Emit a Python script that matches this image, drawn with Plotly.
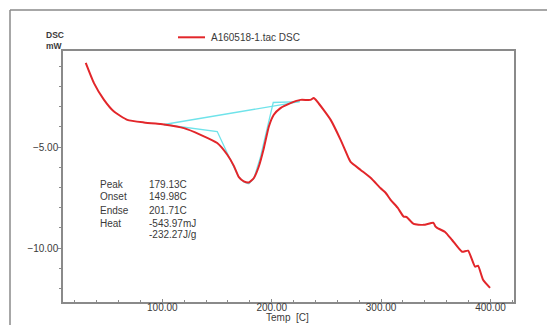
import plotly.graph_objects as go

# DSC curve (Temp [C], DSC [mW])
temp = [30.0, 37.5, 46.7, 55.8, 68.0, 83.2, 98.4, 101.5, 119.7, 135.0, 150.2, 159.4, 165.4,
        170.0, 174.5, 179.1, 183.7, 188.2, 192.8, 197.4, 201.9, 208.0, 217.2, 226.3, 235.4,
        238.4, 241.6, 253.9, 263.0, 270.2, 272.1, 281.3, 290.4, 299.6, 304.1, 308.7, 315.1,
        320.6, 322.4, 323.7, 329.7, 338.8, 347.9, 349.6, 351.2, 358.5, 364.9, 374.0, 379.5,
        385.9, 388.6, 393.2, 399.6]
dsc = [-0.83, -1.83, -2.66, -3.24, -3.65, -3.78, -3.86, -3.88, -4.06, -4.39, -4.80, -5.38, -5.93,
       -6.49, -6.70, -6.75, -6.53, -5.96, -5.05, -3.98, -3.40, -3.07, -2.82, -2.66, -2.66,
       -2.57, -2.74, -3.65, -4.64, -5.53, -5.73, -6.13, -6.52, -7.04, -7.26, -7.61, -8.00,
       -8.44, -8.45, -8.48, -8.80, -8.85, -8.75, -8.93, -9.00, -9.20, -9.60, -10.18, -10.13,
       -10.92, -10.87, -11.57, -11.97]

# evaluation construction lines
base_t = [101.5, 225.6]
base_v = [-3.88, -2.75]
onset_t = [101.5, 150.2, 165.1, 170.0, 174.5, 179.1]
onset_v = [-3.88, -4.23, -5.96, -6.49, -6.72, -6.82]
endset_t = [179.1, 183.7, 189.8, 201.4, 225.6]
endset_v = [-6.82, -6.55, -5.47, -2.79, -2.75]

x_ticks = [100, 200, 300, 400]
y_ticks = [-5, -10]

info_labels = ["Peak", "Onset", "Endse", "Heat", ""]
info_values = ["179.13C", "149.98C", "201.71C", "-543.97mJ", "-232.27J/g"]

legend_name = "A160518-1.tac DSC"

RED = "#e2262a"
CYAN = "#6fe3ea"
GRAY = "#8a8a8a"
TXT = "#3a3a3a"
FONT = "Liberation Sans, Arial, sans-serif"

fig = go.Figure()
for tt, vv in [(base_t, base_v), (onset_t, onset_v), (endset_t, endset_v)]:
    fig.add_trace(go.Scatter(x=tt, y=vv, mode="lines", line=dict(color=CYAN, width=1.3),
                             showlegend=False, hoverinfo="skip"))
fig.add_trace(go.Scatter(x=temp, y=dsc, mode="lines", name=legend_name, showlegend=False,
                         line=dict(color=RED, width=2, shape="spline", smoothing=0.5)))

L, R, T, B = 63, 514, 51, 302
W, H = 547, 325
pw, ph = R - L, B - T


def px(xp):
    return (xp - L) / pw


def py(yp):
    return (B - yp) / ph


fig.update_layout(
    width=W, height=H, autosize=False,
    margin=dict(l=L, r=W - R, t=T, b=H - B, pad=0, autoexpand=False),
    paper_bgcolor="white", plot_bgcolor="white",
    font=dict(family=FONT, size=10, color=TXT),
    showlegend=False,
    xaxis=dict(range=[9.2, 421.5], showgrid=False, zeroline=False, automargin=False,
               showline=True, linecolor=GRAY, linewidth=1.5, mirror=True,
               tickvals=x_ticks, tickformat=".2f", ticks="inside", ticklen=3,
               ticklabelstandoff=-5,
               tickcolor=GRAY, tickfont=dict(size=10, color=TXT),
               minor=dict(dtick=20, tick0=0, ticks="inside", ticklen=2, tickcolor=GRAY)),
    yaxis=dict(range=[-12.67, -0.24], showgrid=False, zeroline=False, automargin=False,
               showline=True, linecolor=GRAY, linewidth=1.5, mirror=True,
               tickvals=y_ticks, tickformat=".2f", ticks="outside", ticklen=3,
               ticklabelstandoff=-2,
               tickcolor=GRAY, tickfont=dict(size=10, color=TXT),
               minor=dict(dtick=1, tick0=0, ticks="outside", ticklen=2, tickcolor=GRAY)),
)

# outer frame
fig.add_shape(type="line", xref="paper", yref="paper", x0=px(10), x1=px(547),
              y0=py(10), y1=py(10), line=dict(color=GRAY, width=1.5))
fig.add_shape(type="line", xref="paper", yref="paper", x0=px(10), x1=px(10),
              y0=py(10), y1=py(325), line=dict(color=GRAY, width=1.5))

# legend sample + text
fig.add_shape(type="line", xref="paper", yref="paper", x0=px(178), x1=px(205),
              y0=py(37.3), y1=py(37.3), line=dict(color=RED, width=2))
fig.add_annotation(xref="paper", yref="paper", x=px(209), y=py(37.3), xanchor="left",
                   yanchor="middle", showarrow=False, text=legend_name,
                   font=dict(size=10, color=TXT))

fig.add_annotation(xref="paper", yref="paper", x=px(44), y=py(40.8), xanchor="left",
                   yanchor="middle", showarrow=False, align="left",
                   text="<b>DSC</b><br><b>mW</b>", font=dict(size=8.5, color=TXT))
fig.add_annotation(xref="paper", yref="paper", x=px(287.5), y=py(317), xanchor="center",
                   yanchor="middle", showarrow=False, text="Temp  [C]",
                   font=dict(size=10, color=TXT))

rows_y = [184, 197, 210, 223, 234]
for lab, val, yy in zip(info_labels, info_values, rows_y):
    if lab:
        fig.add_annotation(xref="paper", yref="paper", x=px(98), y=py(yy), xanchor="left",
                           yanchor="middle", showarrow=False, text=lab,
                           font=dict(size=10, color=TXT))
    fig.add_annotation(xref="paper", yref="paper", x=px(147), y=py(yy), xanchor="left",
                       yanchor="middle", showarrow=False, text=val,
                       font=dict(size=10, color=TXT))

fig.write_html("out.html")
